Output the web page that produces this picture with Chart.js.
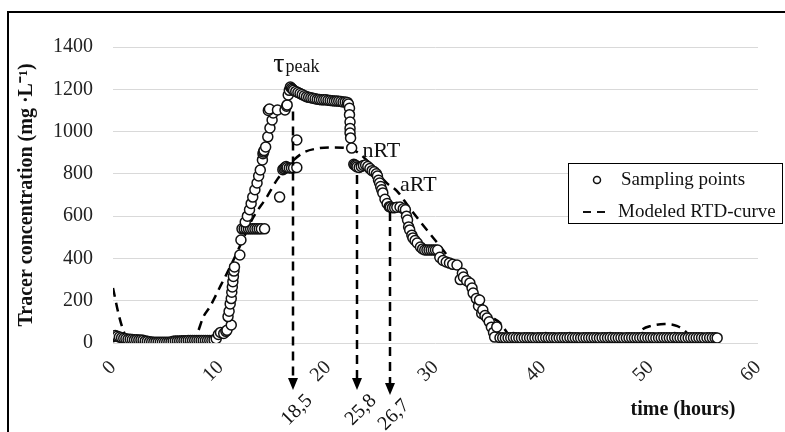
<!DOCTYPE html>
<html>
<head>
<meta charset="utf-8">
<script src="https://cdn.jsdelivr.net/npm/chart.js@4"></script>
<style>
  html, body { margin: 0; padding: 0; background: #fff; }
  #wrap { position: relative; width: 785px; height: 432px; overflow: hidden; }
  #frame { position: absolute; left: 7px; top: 11px; width: 820px; height: 460px; border: 2px solid #000; }
  canvas { position: absolute; left: 0; top: 0; }
</style>
</head>
<body>
<div id="wrap">
  <div id="frame"></div>
  <canvas id="chart" width="785" height="432"></canvas>
</div>
<script>
// sampling points (hours, mg/L)
const baseTime = [0, 0.2, 0.4, 0.6, 0.8, 1.0, 1.2, 1.4, 1.6, 1.8, 2.0, 2.2, 2.4, 2.6, 2.8, 3.0, 3.2, 3.4, 3.6, 3.8,
  4.0, 4.2, 4.4, 4.6, 4.8, 5.0, 5.2, 5.4, 5.6, 5.8, 6.0, 6.2, 6.4, 6.6, 6.8, 7.0, 7.2, 7.4, 7.6, 7.8,
  8.0, 8.2, 8.4, 8.6, 8.8, 9.0, 9.2, 9.4, 9.6, 9.8];
const baseConc = [30, 35, 32, 28, 25, 22, 20, 18, 18, 16, 15, 15, 14, 14, 13, 10, 8, 6, 5, 4,
  4, 3, 3, 3, 3, 3, 4, 5, 8, 10, 10, 10, 11, 11, 11, 12, 12, 12, 12, 12,
  12, 12, 12, 12, 12, 12, 12, 14, 20, 40];

const riseTime = [10.0, 10.3, 10.5, 10.6, 11.0, 10.7, 10.8, 10.9, 11.0, 11.05, 11.1, 11.15, 11.2, 11.25, 11.3, 11.8, 11.9,
  12.0, 12.2, 12.4, 12.6, 12.8, 13.0, 13.2, 13.4, 13.6, 13.8, 14.1,
  12.3, 12.5, 12.7, 12.85, 13.0, 13.2, 13.4, 13.55, 13.7, 13.9, 13.95, 14.0, 14.05, 14.2, 14.4, 14.6, 14.8, 14.9,
  14.45, 14.55, 15.3, 16.0, 16.15, 16.2, 16.3, 16.4, 16.5,
  15.5, 15.8, 15.9, 16.0, 16.1, 16.2, 16.4, 16.6, 16.8, 17.1, 17.1];
const riseConc = [50, 45, 55, 60, 85, 125, 150, 185, 210, 240, 265, 290, 315, 340, 360, 416, 487,
  540, 540, 540, 540, 540, 540, 540, 540, 540, 540, 540,
  572, 600, 630, 660, 690, 725, 757, 790, 818, 866, 895, 903, 910, 927, 975, 1017, 1055, 1088,
  1100, 1107, 1102, 1102, 1120, 1126, 1173, 1195, 1211,
  690, 820, 825, 830, 835, 830, 828, 828, 828, 830, 960];

const plateauTime = [16.6, 16.7, 16.8, 17.0, 17.2, 17.4, 17.6, 17.8, 18.0, 18.2, 18.4, 18.6, 18.8, 19.0,
  19.2, 19.4, 19.6, 19.8, 20.0, 20.2, 20.4, 20.6, 20.8, 21.0, 21.2, 21.4, 21.6, 21.8];
const plateauConc = [1205, 1200, 1195, 1190, 1185, 1180, 1175, 1170, 1165, 1162, 1160, 1158, 1155, 1153,
  1152, 1150, 1150, 1150, 1148, 1147, 1146, 1145, 1145, 1144, 1142, 1140, 1140, 1138];

const fallTime = [21.9, 22.0, 22.0, 22.05, 22.05, 22.05, 22.1, 22.2, 22.4, 22.5, 22.6, 22.7, 22.9, 23.1, 23.3, 23.5,
  23.7, 23.9, 24.1, 24.3, 24.5, 24.6, 24.7, 24.8, 24.9, 25.0, 25.1, 25.3, 25.5, 25.7, 25.8, 26.0, 26.2, 26.4,
  26.7, 27.0, 27.2, 27.3, 27.4, 27.5, 27.6, 27.8, 27.9, 28.1, 28.3, 28.6, 28.8, 29.0, 29.2, 29.4, 29.6, 29.8,
  30.0, 30.2, 30.4, 30.7, 31.0, 31.3, 31.6, 32.0, 32.3, 32.5, 32.6, 32.9, 33.2, 33.4, 33.5, 33.8, 34.0, 34.1,
  34.3, 34.4, 34.6, 34.8, 35.0, 35.2, 35.4, 35.5, 35.7];
const fallConc = [1130, 1110, 1080, 1045, 1015, 993, 970, 922, 845, 842, 838, 833, 830, 835, 840, 842,
  835, 825, 815, 810, 800, 790, 770, 757, 740, 725, 710, 680, 660, 645, 643, 640, 640, 642,
  643, 635, 630, 600, 582, 549, 535, 510, 497, 485, 473, 454, 445, 440, 440, 440, 440, 440,
  440, 440, 405, 390, 383, 378, 372, 369, 300, 330, 312, 295, 284, 260, 236, 210, 175, 203,
  140, 156, 130, 118, 100, 75, 50, 28, 76];

const tailTime = [36.0, 36.25, 36.5, 36.75, 37.0, 37.25, 37.5, 37.75, 38.0, 38.25,
  38.5, 38.75, 39.0, 39.25, 39.5, 39.75, 40.0, 40.25, 40.5, 40.75,
  41.0, 41.25, 41.5, 41.75, 42.0, 42.25, 42.5, 42.75, 43.0, 43.25,
  43.5, 43.75, 44.0, 44.25, 44.5, 44.75, 45.0, 45.25, 45.5, 45.75,
  46.0, 46.25, 46.5, 46.75, 47.0, 47.25, 47.5, 47.75, 48.0, 48.25,
  48.5, 48.75, 49.0, 49.25, 49.5, 49.75, 50.0, 50.25, 50.5, 50.75,
  51.0, 51.25, 51.5, 51.75, 52.0, 52.25, 52.5, 52.75, 53.0, 53.25,
  53.5, 53.75, 54.0, 54.25, 54.5, 54.75, 55.0, 55.25, 55.5, 55.75,
  56.0, 56.2];
const tailConc = [25, 25, 24, 25, 25, 26, 25, 25, 24, 25,
  25, 25, 25, 24, 25, 25, 25, 26, 25, 25,
  25, 24, 25, 25, 25, 25, 26, 25, 25, 25,
  24, 25, 25, 25, 25, 25, 25, 24, 25, 25,
  25, 26, 25, 25, 25, 25, 24, 25, 25, 25,
  25, 25, 25, 26, 25, 25, 25, 25, 24, 25,
  25, 25, 25, 25, 25, 26, 25, 25, 25, 24,
  25, 25, 25, 25, 25, 25, 24, 25, 25, 25,
  25, 24];

// modeled RTD curve
const modelTime = [0, 0.6, 1.2, 2, 7.5, 7.9, 8.4, 9.0, 10.0, 10.9, 12, 13, 14.3, 15.3, 16.5, 17.7, 19, 20.5, 22,
  22.5, 23.5, 24.5, 25.5, 26.4, 27.5, 28.7, 29.8, 31, 32, 33, 34, 35, 36, 36.8, 37.5, 38,
  48, 49.3, 50, 51.3, 52.5, 53.2, 54, 54.5, 56];
const modelConc = [260, 120, 30, 0, 0, 52, 123, 170, 270, 360, 480, 590, 690, 775, 850, 900, 920, 925, 920,
  910, 870, 810, 755, 720, 645, 566, 497, 420, 350, 270, 190, 130, 95, 40, 5, 0,
  0, 66, 80, 90, 80, 57, 10, 0, 0];

// residence-time markers
const markerTime = [16.7, 22.7, 25.8];
const markerTop = [1095, 795, 620];
const markerLabel = ['18,5', '25,8', '26,7'];

const toPoints = (xs, ys) => xs.map((x, i) => ({ x: x, y: ys[i] }));
const samplePoints = [].concat(
  toPoints(baseTime, baseConc),
  toPoints(riseTime, riseConc),
  toPoints(plateauTime, plateauConc),
  toPoints(fallTime, fallConc),
  toPoints(tailTime, tailConc)
);
const modelPoints = toPoints(modelTime, modelConc);

const SERIF = '"Liberation Serif", "Times New Roman", serif';

const annotations = {
  id: 'annotations',
  afterDatasetsDraw(chart) {
    const { ctx, scales: { x, y } } = chart;
    const tipY = [390, 390, 395];
    ctx.save();
    ctx.strokeStyle = '#000';
    ctx.fillStyle = '#000';
    markerTime.forEach((t, i) => {
      const px = Math.round(x.getPixelForValue(t));
      const top = y.getPixelForValue(markerTop[i]);
      ctx.setLineDash([9, 6]);
      ctx.lineWidth = 2.5;
      ctx.beginPath();
      ctx.moveTo(px, top);
      ctx.lineTo(px, tipY[i] - 11);
      ctx.stroke();
      ctx.setLineDash([]);
      ctx.beginPath();
      ctx.moveTo(px - 5, tipY[i] - 12);
      ctx.lineTo(px + 5, tipY[i] - 12);
      ctx.lineTo(px, tipY[i]);
      ctx.closePath();
      ctx.fill();

      ctx.save();
      ctx.translate(px + 4, tipY[i] + 20);
      ctx.rotate(-Math.PI / 4);
      ctx.font = '20px ' + SERIF;
      ctx.textAlign = 'center';
      ctx.textBaseline = 'middle';
      ctx.fillStyle = '#111';
      ctx.fillText(markerLabel[i], 0, 0);
      ctx.restore();
    });

    ctx.fillStyle = '#111';
    ctx.textBaseline = 'alphabetic';
    ctx.textAlign = 'left';
    const tx = x.getPixelForValue(14.9), ty = y.getPixelForValue(1282);
    ctx.font = '28px ' + SERIF;
    ctx.fillText('τ', tx, ty);
    const tw = ctx.measureText('τ').width;
    ctx.font = '18px ' + SERIF;
    ctx.fillText('peak', tx + tw + 1, ty);

    ctx.font = '22px ' + SERIF;
    ctx.fillText('nRT', x.getPixelForValue(23.2), y.getPixelForValue(880));
    ctx.fillText('aRT', x.getPixelForValue(26.7), y.getPixelForValue(719));

    ctx.font = 'bold 20px ' + SERIF;
    ctx.textAlign = 'center';
    ctx.textBaseline = 'middle';
    ctx.fillText('time (hours)', 683, 410);
    ctx.restore();
  }
};

const boxLegend = {
  id: 'boxLegend',
  afterDraw(chart) {
    const ctx = chart.ctx;
    const ds = chart.data.datasets;
    ctx.save();
    ctx.fillStyle = '#fff';
    ctx.fillRect(568, 163, 215, 61);
    ctx.strokeStyle = '#000';
    ctx.lineWidth = 1;
    ctx.strokeRect(568.5, 163.5, 214, 60);

    ctx.beginPath();
    ctx.arc(597, 180, 3.5, 0, Math.PI * 2);
    ctx.fillStyle = '#fff';
    ctx.fill();
    ctx.lineWidth = 1.5;
    ctx.strokeStyle = '#111';
    ctx.stroke();

    ctx.lineWidth = 2;
    ctx.setLineDash([8, 6]);
    ctx.beginPath();
    ctx.moveTo(583, 212);
    ctx.lineTo(611, 212);
    ctx.stroke();
    ctx.setLineDash([]);

    ctx.font = '19px ' + SERIF;
    ctx.fillStyle = '#111';
    ctx.textAlign = 'left';
    ctx.textBaseline = 'middle';
    ctx.fillText(ds[0].label, 621, 180);
    ctx.fillText(ds[1].label, 618, 212);
    ctx.restore();
  }
};

const ctx = document.getElementById('chart').getContext('2d');
new Chart(ctx, {
  type: 'scatter',
  data: {
    datasets: [
      {
        label: 'Sampling points',
        data: samplePoints,
        pointRadius: 5,
        pointBackgroundColor: '#fff',
        pointBorderColor: '#111',
        pointBorderWidth: 1.5,
        order: 1
      },
      {
        type: 'line',
        label: 'Modeled RTD-curve',
        data: modelPoints,
        borderColor: '#000',
        borderWidth: 2.5,
        borderDash: [9, 6],
        pointRadius: 0,
        fill: false,
        cubicInterpolationMode: 'monotone',
        order: 2
      }
    ]
  },
  options: {
    responsive: false,
    animation: false,
    devicePixelRatio: 1,
    layout: { padding: { top: 47, right: 27, left: 0, bottom: 0 } },
    plugins: {
      legend: { display: false },
      tooltip: { enabled: false }
    },
    scales: {
      x: {
        type: 'linear',
        min: 0,
        max: 60,
        ticks: {
          stepSize: 10,
          minRotation: 45,
          maxRotation: 45,
          padding: 5,
          color: '#222',
          font: { family: SERIF, size: 20 }
        },
        grid: { display: false },
        border: { display: false },
        afterFit: s => { s.height = 89; }
      },
      y: {
        min: 0,
        max: 1400,
        ticks: {
          stepSize: 200,
          padding: 20,
          color: '#222',
          font: { family: SERIF, size: 20 },
          callback: v => String(v)
        },
        grid: { color: '#d9d9d9', drawTicks: false },
        border: { display: false },
        title: {
          display: true,
          text: 'Tracer concentration (mg ·L⁻¹)',
          color: '#111',
          font: { family: SERIF, size: 20, weight: 'bold' },
          padding: { top: 15, bottom: 0 }
        },
        afterFit: s => { s.width = 113; }
      }
    }
  },
  plugins: [annotations, boxLegend]
});
</script>
</body>
</html>
